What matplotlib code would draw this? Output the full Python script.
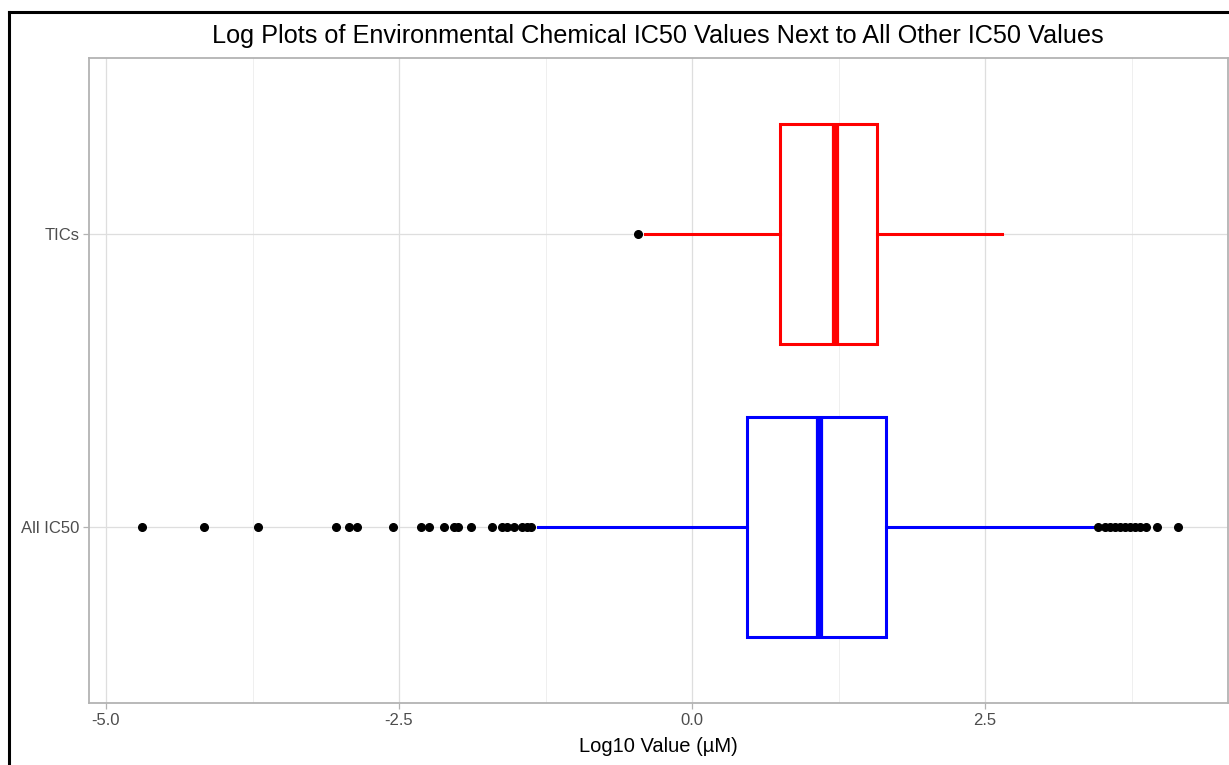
import matplotlib
matplotlib.use("Agg")
from matplotlib import pyplot as plt
from matplotlib.lines import Line2D
from matplotlib.ticker import MultipleLocator

plt.rcParams['font.family'] = ['Liberation Sans', 'DejaVu Sans']

# box statistics (log10 uM)
categories = ["All IC50", "TICs"]
box_colors = ["#0000ff", "#ff0000"]
q1 = [0.47, 0.75]
medians = [1.08, 1.22]
q3 = [1.655, 1.58]
whisker_low = [-1.31, -0.40]
whisker_high = [3.46, 2.645]

all_ic50_outliers = [-4.69, -4.16, -3.70, -3.04, -2.93, -2.86, -2.55, -2.31, -2.24,
                     -2.12, -2.03, -2.00, -1.89, -1.71, -1.62, -1.58, -1.52, -1.45,
                     -1.41, -1.37,
                     3.46, 3.52, 3.57, 3.61, 3.65, 3.69, 3.74, 3.78, 3.82, 3.87,
                     3.97, 4.15]
tics_outliers = [-0.46]
outliers = [all_ic50_outliers, tics_outliers]

xticks = [-5.0, -2.5, 0.0, 2.5]

fig = plt.figure(figsize=(12.29, 7.65), dpi=100)
ax = fig.add_axes([89 / 1229, (765 - 703) / 765, (1228 - 89) / 1229, (703 - 58) / 765])

# grid first so boxes sit on top
ax.set_axisbelow(True)
ax.xaxis.set_major_locator(MultipleLocator(2.5))
ax.xaxis.set_minor_locator(MultipleLocator(1.25))
ax.grid(True, which='major', axis='both', color='#dedede', linewidth=0.9)
ax.grid(True, which='minor', axis='x', color='#ececec', linewidth=0.6)

for i in range(len(categories)):
    st = dict(med=medians[i], q1=q1[i], q3=q3[i],
              whislo=whisker_low[i], whishi=whisker_high[i],
              fliers=outliers[i], label=categories[i])
    c = box_colors[i]
    ax.bxp([st], positions=[i + 1], widths=0.75, orientation='horizontal',
           showcaps=False, patch_artist=True,
           boxprops=dict(facecolor='white', edgecolor=c, linewidth=2.2),
           medianprops=dict(color=c, linewidth=5.2, solid_capstyle='butt'),
           whiskerprops=dict(color=c, linewidth=2.2),
           flierprops=dict(marker='o', markerfacecolor='black', markeredgecolor='black',
                           markersize=5.5, linestyle='none'))

ax.set_xlim(-5.145, 4.573)
ax.set_ylim(0.4, 2.6)
ax.set_yticks([1, 2])
ax.set_yticklabels(categories)
ax.set_xticks(xticks)
ax.set_xticklabels([f"{v:.1f}" for v in xticks])
ax.tick_params(axis='both', which='major', colors='#b3b3b3', labelcolor='#4d4d4d',
               labelsize=12, length=4, width=0.9, pad=3)
ax.tick_params(axis='x', which='minor', length=0)
for s in ax.spines.values():
    s.set_color('#b3b3b3')
    s.set_linewidth(1.3)

ax.set_xlabel("Log10 Value (\u00b5M)", fontsize=14.5, color='black', labelpad=7)
fig.text(658 / 1229, 1 - 36 / 765, "Log Plots of Environmental Chemical IC50 Values Next to All Other IC50 Values",
         ha='center', va='center', fontsize=18.2, color='black')

# black frame at left and top of the image
fig.add_artist(Line2D([9 / 1229, 9 / 1229], [0, 1 - 12 / 765], color='black', linewidth=2.2,
                      transform=fig.transFigure))
fig.add_artist(Line2D([9 / 1229, 1], [1 - 12 / 765, 1 - 12 / 765], color='black', linewidth=2.2,
                      transform=fig.transFigure))

fig.savefig("out.png", dpi=100)
